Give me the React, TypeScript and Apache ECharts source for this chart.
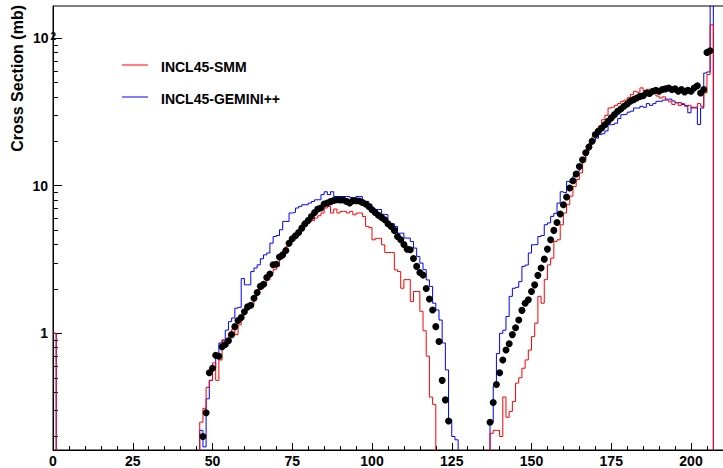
import React, { useEffect, useRef } from "react";
import * as echarts from "echarts";

// ---------- data ----------
const N_BINS = 210; // histogram bins of width 1 on [0, 210]
const EMPTY = 1e-3; // empty bin (drawn below the log axis, clipped)

const X_TICKS_MAX_LABEL = 200;
const Y_MIN = 0.162;
const Y_MAX = 165;
const Y_MAJOR = [1, 10, 100];
const Y_MINOR = [0.2, 0.3, 0.4, 0.5, 0.6, 0.7, 0.8, 0.9, 2, 3, 4, 5, 6, 7, 8, 9, 20, 30, 40, 50, 60, 70, 80, 90];

// INCL45-SMM (red histogram)
const SMM_BIN0 = 1.0;
const SMM_LEFT_START = 46;
const SMM_LEFT = [
  0.25, 0.31, 0.43, 0.48, 0.63, 0.48, 0.66, 0.9, 0.9, 1.0,
  1.06, 0.98, 1.14, 1.33, 1.44, 1.5, 1.56, 1.78, 1.97, 2.0,
  2.19, 2.3, 2.56, 2.7, 2.85, 3.2, 3.6, 3.88, 4.3, 4.45,
  4.53, 5.03, 5.59, 5.65, 5.73, 5.8, 6.04, 6.26, 6.53, 7.06,
  7.24, 6.53, 6.95, 6.53, 6.7, 6.7, 6.53, 6.7, 6.36, 6.53,
  6.53, 6.19, 5.3, 5.2, 4.3, 4.4, 4.4, 3.98, 3.53, 3.53,
  3.53, 2.69, 2.62, 2.02, 2.31, 2.31, 1.64, 1.92, 1.92, 1.41,
  1.04, 0.7, 0.37, 0.33,
];
const SMM_RIGHT_START = 137;
const SMM_RIGHT = [
  0.21, 0.22, 0.22, 0.2, 0.37, 0.27, 0.296, 0.345, 0.46, 0.5,
  0.58, 0.66, 0.77, 0.95, 1.17, 1.78, 1.6, 2.31, 2.91, 3.23,
  4.19, 4.3, 5.44, 6.53, 7.43, 8.5, 9.85, 11.0, 12.2, 14.5,
  16.6, 19.0, 21.6, 24.0, 25.3, 28.0, 30.0, 33.6, 34.0, 35.0,
  36.0, 37.3, 38.0, 39.5, 41.4, 43.6, 43.0, 46.0, 44.0, 45.0,
  42.5, 43.0, 40.5, 39.3, 40.0, 38.0, 37.0, 35.5, 36.5, 35.0,
  36.0, 34.5, 35.0, 33.6, 33.6, 36.0, 34.5, 42.5, 56.7, 123,
];

// INCL45-GEMINI++ (blue histogram)
const GEM_BIN0 = 1.0;
const GEM_LEFT_START = 46;
const GEM_LEFT = [
  0.22, 0.17, 0.36, 0.48, 0.58, 0.71, 0.86, 0.9, 1.05, 1.2,
  1.27, 1.48, 1.5, 2.35, 2.13, 2.13, 2.62, 2.77, 2.91, 3.2,
  3.4, 3.5, 4.08, 4.53, 4.6, 5.03, 5.73, 5.73, 6.53, 6.6,
  7.06, 7.24, 7.43, 7.43, 7.62, 7.82, 8.03, 8.03, 8.7, 9.1,
  8.7, 9.1, 8.45, 8.45, 8.45, 8.45, 8.45, 8.3, 8.3, 8.45,
  8.45, 7.62, 7.82, 7.5, 7.0, 6.9, 6.9, 6.4, 6.36, 5.53,
  5.53, 5.3, 4.77, 4.77, 4.42, 4.42, 4.19, 3.78, 3.32, 2.99,
  2.7, 2.3, 2.08, 1.6, 1.44, 1.23, 0.86, 0.565, 0.26, 0.2,
  0.19,
];
const GEM_RIGHT_START = 137;
const GEM_RIGHT = [
  0.25, 0.44, 0.73, 1.0, 1.05, 1.3, 1.78, 2.02, 2.05, 2.24,
  2.84, 2.9, 3.5, 3.98, 4.0, 4.53, 4.6, 5.44, 5.6, 6.2,
  6.5, 7.62, 9.1, 9.0, 10.7, 10.5, 11.6, 12.5, 13.5, 15.0,
  17.5, 19.4, 20.0, 21.0, 22.2, 22.5, 23.5, 25.9, 26.0, 26.5,
  28.5, 30.3, 30.5, 31.5, 32.0, 33.6, 33.6, 34.5, 34.0, 36.0,
  35.0, 36.0, 37.3, 37.3, 38.0, 38.6, 38.6, 37.5, 36.5, 36.5,
  35.5, 35.0, 31.2, 34.0, 34.0, 26.0, 33.6, 58, 59, 400,
];

// Experimental data (black points), one per mass number A
const EXP_LEFT_START = 47;
const EXP_LEFT = [
  0.2, 0.29, 0.54, 0.58, 0.71, 0.7, 0.81, 0.84, 0.89,
  0.98, 1.11, 1.22, 1.28, 1.4, 1.51, 1.55, 1.73, 1.89, 2.08,
  2.15, 2.39, 2.52, 2.91, 2.94, 3.29, 3.4, 3.64, 4.08, 4.37,
  4.58, 4.82, 5.16, 5.53, 5.82, 6.19, 6.59, 6.95, 7.06, 7.52,
  7.64, 7.8, 7.95, 8.04, 8.0, 8.0, 7.83, 7.64, 7.9, 7.9,
  7.87, 7.7, 7.52, 7.24, 6.88, 6.59, 6.3, 6.1, 5.88, 5.53,
  5.3, 4.98, 4.53, 4.3, 4.0, 3.72, 3.68, 3.21, 2.84, 2.58,
  2.48, 2.01, 1.71, 1.44, 1.11, 0.88, 0.48, 0.354, 0.255,
];
const EXP_RIGHT_START = 137;
const EXP_RIGHT = [
  0.25, 0.34, 0.45, 0.54, 0.66, 0.77, 0.85, 0.98, 1.09, 1.23,
  1.43, 1.6, 1.69, 1.92, 2.13, 2.47, 2.77, 3.18, 3.72, 4.3,
  4.98, 5.64, 6.43, 7.43, 8.38, 9.64, 10.8, 12.0, 13.5, 15.0,
  16.7, 18.3, 20.0, 22.2, 23.5, 24.6, 25.9, 27.3, 28.8, 30.3,
  31.9, 33.1, 34.5, 35.8, 37.3, 38.3, 39.3, 40.3, 40.7, 42.5,
  42.1, 43.6, 44.3, 43.6, 44.8, 45.3, 45.9, 44.8, 45.3, 43.6,
  44.8, 43.2, 44.3, 43.6, 45.9, 47.6, 42.5, 44.8, 80, 82,
];

const SERIES_SMM = "INCL45-SMM";
const SERIES_GEM = "INCL45-GEMINI++";
const Y_TITLE = "Cross Section (mb)";

// ---------- helpers ----------
function buildHistogram(bin0: number, segments: [number, number[]][]) {
  const vals: number[] = new Array(N_BINS).fill(EMPTY);
  vals[0] = bin0;
  segments.forEach(([start, arr]) => arr.forEach((v, i) => (vals[start + i] = v)));
  const pts = vals.map((v, i) => [i, v]);
  pts.push([N_BINS, EMPTY]);
  return pts;
}
function buildPoints(segments: [number, number[]][]) {
  const pts: number[][] = [];
  segments.forEach(([start, arr]) => arr.forEach((v, i) => pts.push([start + i, v])));
  return pts;
}

const FONT = '"Liberation Sans", Arial, Helvetica, sans-serif';

export default function App() {
  const ref = useRef<HTMLDivElement>(null);
  useEffect(() => {
    if (!ref.current) return;
    const chart = echarts.init(ref.current, undefined, { renderer: "svg" });
    const smm = buildHistogram(SMM_BIN0, [[SMM_LEFT_START, SMM_LEFT], [SMM_RIGHT_START, SMM_RIGHT]]);
    const gem = buildHistogram(GEM_BIN0, [[GEM_LEFT_START, GEM_LEFT], [GEM_RIGHT_START, GEM_RIGHT]]);
    const exp = buildPoints([[EXP_LEFT_START, EXP_LEFT], [EXP_RIGHT_START, EXP_RIGHT]]);

    const logAxisBase = {
      type: "log" as const,
      logBase: 10,
      min: Y_MIN,
      max: Y_MAX,
      position: "left" as const,
      splitLine: { show: false },
      minorTick: { show: false },
      minorSplitLine: { show: false },
    };

    chart.setOption({
      animation: false,
      backgroundColor: "#fff",
      grid: {
        left: 53,
        right: -47.75,
        top: 6,
        bottom: 18,
        containLabel: false,
        outerBoundsMode: "none",
        show: true,
        borderColor: "#000",
        borderWidth: 1,
        backgroundColor: "transparent",
      },
      xAxis: {
        type: "value",
        min: 0,
        max: 225,
        interval: 25,
        axisLine: { show: true, onZero: false, lineStyle: { color: "#000", width: 1 } },
        axisTick: { show: true, inside: true, length: 7, lineStyle: { color: "#000", width: 1 } },
        minorTick: { show: true, splitNumber: 5, length: 4, lineStyle: { color: "#000", width: 1 } },
        axisLabel: {
          color: "#000",
          fontFamily: FONT,
          fontWeight: "bold",
          fontSize: 14,
          margin: 4,
          formatter: (v: number) => (v <= X_TICKS_MAX_LABEL ? String(v) : ""),
        },
        splitLine: { show: false },
      },
      yAxis: [
        {
          ...logAxisBase,
          axisLine: { show: true, lineStyle: { color: "#000", width: 1 } },
          axisTick: { show: true, inside: true, length: 9, customValues: Y_MAJOR, lineStyle: { color: "#000", width: 1 } },
          axisLabel: {
            customValues: Y_MAJOR,
            margin: -3,
            formatter: (v: number) => {
              const e = Math.round(Math.log10(v));
              if (e === 0) return "{n|1}";
              if (e === 1) return "{n|10}";
              return "{m|10}{s|" + e + "}";
            },
            rich: {
              n: { fontFamily: FONT, fontWeight: "bold", fontSize: 14, color: "#000", padding: [0, 8, 0, 0], lineHeight: 14 },
              m: { fontFamily: FONT, fontWeight: "bold", fontSize: 14, color: "#000", lineHeight: 14 },
              s: { fontFamily: FONT, fontWeight: "bold", fontSize: 10, color: "#000", verticalAlign: "top", lineHeight: 14, padding: [0, 0, 0, 2] },
            },
          },
        },
        {
          ...logAxisBase,
          axisLine: { show: false },
          axisTick: { show: true, inside: true, length: 5, customValues: Y_MINOR, lineStyle: { color: "#000", width: 1 } },
          axisLabel: { show: false },
        },
      ],
      series: [
        {
          name: SERIES_GEM,
          type: "line",
          step: "end",
          data: gem,
          symbol: "none",
          showSymbol: false,
          clip: true,
          color: "#0000ff",
          lineStyle: { color: "#0000ff", width: 1 },
          z: 2,
        },
        {
          name: SERIES_SMM,
          type: "line",
          step: "end",
          data: smm,
          symbol: "none",
          showSymbol: false,
          clip: true,
          color: "#ff0000",
          lineStyle: { color: "#ff0000", width: 1 },
          z: 3,
        },
        {
          name: "data",
          type: "scatter",
          data: exp,
          symbol: "circle",
          symbolSize: 7,
          clip: true,
          itemStyle: { color: "#000", opacity: 1 },
          z: 4,
        },
      ],
      graphic: [
        {
          type: "text",
          x: 17,
          y: 5,
          rotation: Math.PI / 2,
          style: {
            text: Y_TITLE,
            fontFamily: FONT,
            fontWeight: "bold",
            fontSize: 16,
            fill: "#000",
            align: "right",
            verticalAlign: "middle",
          },
        },
        { type: "line", shape: { x1: 122, y1: 65, x2: 148, y2: 65 }, style: { stroke: "#ff0000", lineWidth: 1 } },
        {
          type: "text",
          x: 161,
          y: 66.5,
          style: { text: SERIES_SMM, fontFamily: FONT, fontWeight: "bold", fontSize: 14, fill: "#000", verticalAlign: "middle" },
        },
        { type: "line", shape: { x1: 122, y1: 97, x2: 148, y2: 97 }, style: { stroke: "#0000ff", lineWidth: 1 } },
        {
          type: "text",
          x: 161,
          y: 98.5,
          style: { text: SERIES_GEM, fontFamily: FONT, fontWeight: "bold", fontSize: 14, fill: "#000", verticalAlign: "middle" },
        },
      ],
    });
    return () => chart.dispose();
  }, []);
  return (
    <div
      ref={ref}
      style={{ position: "fixed", left: 0, top: 0, width: 723, height: 468, background: "#fff" }}
    />
  );
}
